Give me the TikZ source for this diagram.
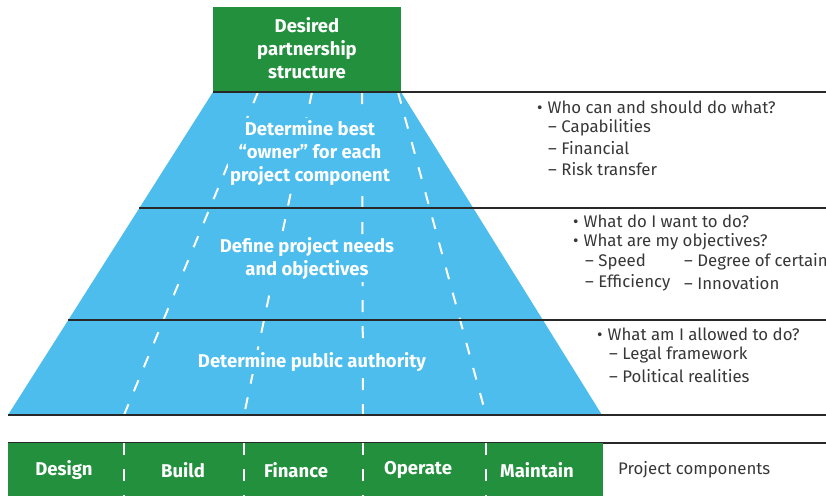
\documentclass[tikz,border=0pt]{standalone}
\usepackage{fontspec}
\setmainfont{Fira Sans}
\definecolor{pgreen}{RGB}{35,144,62}
\definecolor{pblue}{RGB}{76,189,236}
\definecolor{rulegrey}{RGB}{40,40,40}
\definecolor{notegrey}{RGB}{55,55,55}

\begin{document}
\begin{tikzpicture}[x=1pt,y=-1pt,
  lane/.style={white, line width=2pt, dash pattern=on 12pt off 14pt},
  rulebar/.style={rulegrey, line width=2pt},
  head/.style={white, font=\bfseries\fontsize{18.5}{23}\selectfont, align=center},
  layer/.style={head, fill=pblue, inner sep=2pt},
  note/.style={notegrey, font=\fontsize{16.8}{21}\selectfont, anchor=west, inner sep=0pt}]

\useasboundingbox (0,0) rectangle (826,496);

%% Trapezoid of the three layers
\coordinate (tl) at (213,92);
\coordinate (tr) at (401,92);
\coordinate (br) at (602,415);
\coordinate (bl) at (8,415);
\fill [pblue] (tl) -- (tr) -- (br) -- (bl) -- cycle;

%% Lanes for the project components
\draw [lane] (258,92) -- (124,415);
\draw [lane] (312,92) -- (244,415);
\draw [lane] (362,92) -- (363,415);
\draw [lane] (398,92) -- (486,415);

%% Top box
\fill [pgreen] (213,7) rectangle (401,92);
\node [head] (desired) at (307,48) {Desired\\partnership\\structure};

%% Layer rules
\draw [rulebar] (tl) -- (826,92);
\draw [rulebar] (139.4,208) -- (826,208);
\draw [rulebar] (68,320) -- (826,320);
\draw [rulebar] (bl) -- (826,415);
\draw [rulebar] (8,443) -- (826,443);

%% Layer titles
\node [layer] (owner) at (310,153) {Determine best\\“owner” for each\\project component};
\node [layer] (needs) at (307,259) {Define project needs\\and objectives};
\node [layer] (authority) at (312,362) {Determine public authority};

%% Notes, first layer
\node [note] (who) at (537,107) {•\hspace{5pt}Who can and should do what?};
\node [note] (capab) at (548,128) {– Capabilities};
\node [note] (financial) at (548,148) {– Financial};
\node [note] (risk) at (548,169) {– Risk transfer};

%% Notes, second layer
\node [note] (want) at (573,221) {•\hspace{5pt}What do I want to do?};
\node [note] (objectives) at (573,242) {•\hspace{5pt}What are my objectives?};
\node [note] (speed) at (585,262) {– Speed};
\node [note] (certainty) at (684,262) {– Degree of certainty};
\node [note] (efficiency) at (585,283) {– Efficiency};
\node [note] (innovation) at (684,283) {– Innovation};

%% Notes, third layer
\node [note] (allowed) at (597,334) {•\hspace{5pt}What am I allowed to do?};
\node [note] (legal) at (609,355) {– Legal framework};
\node [note] (political) at (609,376) {– Political realities};

%% Component bar
\fill [pgreen] (8,443) rectangle (603,496);
\draw [lane] (124,443) -- (124,496);
\draw [lane] (244,443) -- (244,496);
\draw [lane] (363,443) -- (363,496);
\draw [lane] (486,443) -- (486,496);
\node [head] (design) at (64,470) {Design};
\node [head] (build) at (183,470) {Build};
\node [head] (finance) at (296,470) {Finance};
\node [head] (operate) at (418,470) {Operate};
\node [head] (maintain) at (537,470) {Maintain};
\node [note] (components) at (618,470) {Project components};

\end{tikzpicture}
\end{document}
